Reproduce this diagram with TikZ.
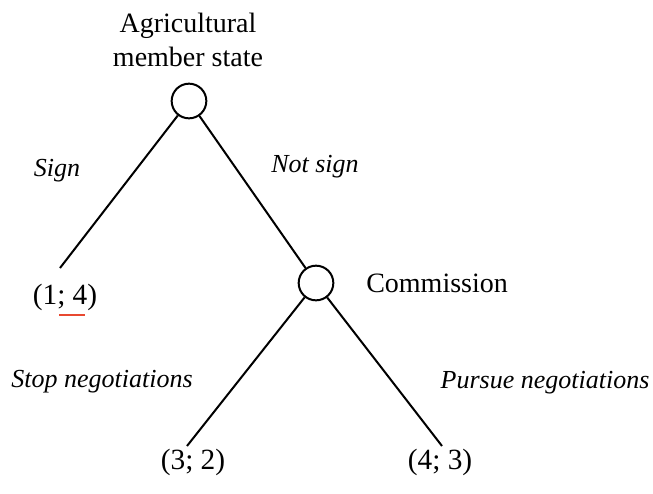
\documentclass[tikz,border=0pt]{standalone}
\usepackage{fontspec}
\setmainfont{Liberation Serif}
\usepackage{xcolor}

\definecolor{spellred}{RGB}{232,72,48}

\tikzset{
  decision/.style={draw, circle, line width=1.5, minimum size=26, inner sep=0pt},
  branch/.style={line width=1.5},
  player/.style={inner sep=0.75pt, font=\fontsize{21}{25.5}\selectfont, align=center},
  payoff/.style={inner sep=0.75pt, font=\fontsize{22}{26}\selectfont},
  move/.style={inner sep=0.75pt, font=\fontsize{19.5}{23}\selectfont\itshape}
}

\begin{document}
\begin{tikzpicture}[x=0.75pt,y=0.75pt,yscale=-1,xscale=1]
\useasboundingbox (0,0) rectangle (653,493);

% Decision nodes
\node [decision] (agri) at (189,101) {};
\node [decision] (comm) at (316,283) {};

% Ends of the branches
\coordinate (endsign) at (60,268);
\coordinate (endstop) at (187,446);
\coordinate (endpursue) at (442,446);

%Straight Lines
\draw [branch] (agri) -- (endsign);
\draw [branch] (agri) -- (comm);
\draw [branch] (comm) -- (endstop);
\draw [branch] (comm) -- (endpursue);

% Text Node
\node [player] (agrilbl) at (188,40) {Agricultural\\member state};
% Text Node
\node [player, anchor=west] (commlbl) at (365,283) {Commission};
% Text Node
\node [move] (sign) at (57,171) {Sign};
% Text Node
\node [move] (notsign) at (315,167) {Not sign};
% Text Node
\node [move] (stop) at (102,382) {Stop negotiations};
% Text Node
\node [move] (pursue) at (545,383) {Pursue negotiations};
% Text Node
\node [payoff] (pay14) at (65,297) {(1; 4)};
% Text Node
\node [payoff] (pay32) at (193,462) {(3; 2)};
% Text Node
\node [payoff] (pay43) at (440,462) {(4; 3)};

% underline under the 4
\draw [spellred, line width=1.5] (59,315) -- (85,315);

\end{tikzpicture}
\end{document}
